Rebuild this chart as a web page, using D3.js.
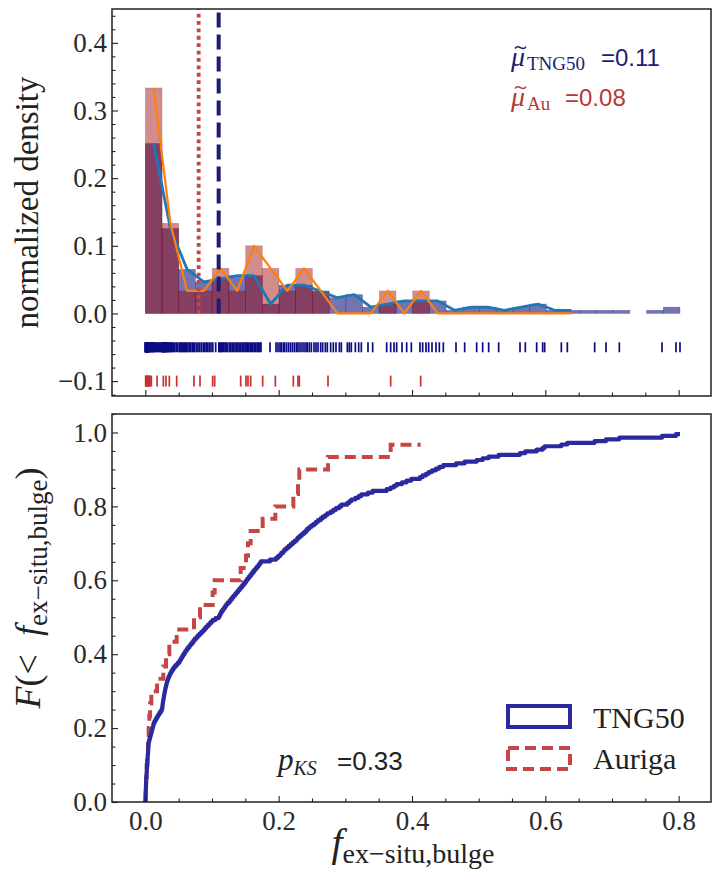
<!DOCTYPE html>
<html>
<head>
<meta charset="utf-8">
<script src="https://cdn.jsdelivr.net/npm/d3@7"></script>
<style>
  body { margin: 0; background: #fff; }
  svg text { fill: #222; }
  svg .tick text { font-family: 'Liberation Serif', 'Times New Roman', serif; font-size: 27px; }
</style>
</head>
<body>
<svg id="chart" width="712" height="879"></svg>
<script>
// Ex-situ bulge mass fraction per galaxy, TNG50 sample (sorted)
const tngValues = [
  0.0001, 0.0002, 0.0003, 0.0004, 0.0005, 0.0006, 0.0007, 0.0008, 0.0009, 0.0010,
  0.0011, 0.0012, 0.0013, 0.0015, 0.0016, 0.0018, 0.0019, 0.0021, 0.0022, 0.0024,
  0.0025, 0.0027, 0.0029, 0.0030, 0.0032, 0.0034, 0.0036, 0.0038, 0.0040, 0.0042,
  0.0044, 0.0046, 0.0048, 0.0049, 0.0050,
  0.0057, 0.0064, 0.0071, 0.0078, 0.0085, 0.0092, 0.0099, 0.0106, 0.0113, 0.0119, 0.0125,
  0.0138, 0.0152, 0.0166, 0.0181, 0.0197, 0.0213, 0.0229, 0.0245,
  0.0253, 0.0256, 0.0259, 0.0263, 0.0267, 0.0271, 0.0275, 0.0279, 0.0284, 0.0289,
  0.0294, 0.0299, 0.0305, 0.0311, 0.0317, 0.0324, 0.0332, 0.0341, 0.0351, 0.0362,
  0.0374, 0.0388, 0.0403, 0.0420, 0.0440, 0.0462, 0.0486,
  0.0510, 0.0525, 0.0540, 0.0555, 0.0570, 0.0588, 0.0602, 0.0621, 0.0640, 0.0662,
  0.0680, 0.0703, 0.0722, 0.0741,
  0.0768, 0.0790, 0.0815, 0.0840, 0.0868, 0.0890, 0.0912, 0.0938, 0.0962, 0.0985,
  0.1012, 0.1055, 0.1102, 0.1115, 0.1128, 0.1142, 0.1160, 0.1178, 0.1196, 0.1214, 0.1235,
  0.1262, 0.1281, 0.1302, 0.1322, 0.1345, 0.1366, 0.1388, 0.1409, 0.1431, 0.1452, 0.1474, 0.1495,
  0.1512, 0.1531, 0.1552, 0.1573, 0.1592, 0.1613, 0.1634, 0.1655, 0.1676, 0.1697, 0.1716, 0.1735,
  0.187, 0.196, 0.199,
  0.202, 0.204, 0.207, 0.209, 0.212, 0.215, 0.218, 0.221, 0.224,
  0.227, 0.229, 0.232, 0.235, 0.238, 0.241, 0.243, 0.246, 0.249,
  0.253, 0.256, 0.259, 0.263, 0.266, 0.270, 0.273,
  0.278, 0.282, 0.286, 0.291, 0.294,
  0.303, 0.306, 0.309, 0.315, 0.320, 0.324,
  0.334, 0.341,
  0.362, 0.368, 0.373,
  0.377, 0.385, 0.392, 0.399,
  0.412, 0.416, 0.421, 0.425,
  0.430, 0.436, 0.441, 0.447,
  0.466,
  0.479, 0.497,
  0.506, 0.515,
  0.530,
  0.562, 0.570,
  0.587, 0.596, 0.599,
  0.624, 0.633, 0.674, 0.691, 0.711,
  0.775, 0.796, 0.802
];

// Ex-situ bulge mass fraction per galaxy, Auriga sample (sorted)
const aurigaValues = [
  0.0005, 0.001, 0.002, 0.003, 0.004, 0.005, 0.006, 0.007, 0.009, 0.0176,
  0.027, 0.031, 0.036, 0.047, 0.073, 0.082, 0.101, 0.104, 0.143, 0.151,
  0.154, 0.158, 0.176, 0.195, 0.222, 0.229, 0.231, 0.274, 0.368, 0.413
];

const seriesNames = ["TNG50", "Auriga"];
const medianSubscripts = ["TNG50", "Au"];
const pKS = 0.33;

const xTicks = [0.0, 0.2, 0.4, 0.6, 0.8];
const xMinorTicks = [0.05, 0.1, 0.15, 0.25, 0.3, 0.35, 0.45, 0.5, 0.55, 0.65, 0.7, 0.75];
const densityTicks = [-0.1, 0.0, 0.1, 0.2, 0.3, 0.4];
const densityMinorTicks = [-0.12, -0.08, -0.06, -0.04, -0.02, 0.02, 0.04, 0.06, 0.08,
  0.12, 0.14, 0.16, 0.18, 0.22, 0.24, 0.26, 0.28, 0.32, 0.34, 0.36, 0.38, 0.42, 0.44];
const cdfTicks = [0.0, 0.2, 0.4, 0.6, 0.8, 1.0];
const cdfMinorTicks = [0.05, 0.1, 0.15, 0.25, 0.3, 0.35, 0.45, 0.5, 0.55, 0.65, 0.7, 0.75, 0.85, 0.9, 0.95, 1.05];

// Histogram settings
const nBins = 32;
const polygonBins = 26;          // bins covered by the frequency polygons
const rugLevels = [-0.05, -0.1]; // rug rows in density units

// Colours
const tngBar = "#10107a", auBar = "#990000";
const tngDark = "#0c0c82", tngCdf = "#2a2a9e", tngText = "#1c1c74";
const auRed = "#c44646", auText = "#b83838";
const polyBlue = "#1f77b4", polyOrange = "#ff7f0e";

const serif = "'Liberation Serif', 'Times New Roman', serif";
const sans = "'Liberation Sans', Arial, sans-serif";

const svg = d3.select("#chart");

// Panel geometry
const left = 112, right = 711;
const top1 = 9, bot1 = 396;
const top2 = 414, bot2 = 802;

const x = d3.scaleLinear().domain([-0.05, 0.85]).range([left, 712]);
const yD = d3.scaleLinear().domain([-0.122, 0.45]).range([bot1, top1]);
const yC = d3.scaleLinear().domain([0, 1.05]).range([bot2, top2]);

// ---------- top panel: histograms ----------
const maxVal = d3.max(tngValues);
const thresholds = d3.range(1, nBins).map(i => i * maxVal / nBins);
const binner = d3.bin().domain([0, maxVal]).thresholds(thresholds);
const tngBins = binner(tngValues).map(b => ({x0: b.x0, x1: b.x1, h: b.length / tngValues.length}));
const auBins = binner(aurigaValues).map(b => ({x0: b.x0, x1: b.x1, h: b.length / aurigaValues.length}));

svg.append("clipPath").attr("id", "clipTop")
  .append("rect").attr("x", left).attr("y", top1).attr("width", right - left).attr("height", bot1 - top1);
const g1 = svg.append("g").attr("clip-path", "url(#clipTop)");

function drawBars(bins, color, opacity) {
  g1.append("g").selectAll("rect").data(bins.filter(b => b.h > 0)).join("rect")
    .attr("x", b => x(b.x0))
    .attr("width", b => x(b.x1) - x(b.x0))
    .attr("y", b => yD(b.h))
    .attr("height", b => yD(0) - yD(b.h))
    .attr("fill", color).attr("fill-opacity", opacity)
    .attr("stroke", color).attr("stroke-opacity", opacity * 0.6).attr("stroke-width", 0.6);
}
drawBars(tngBins, tngBar, 0.58);
drawBars(auBins, auBar, 0.45);

const poly = d3.line().x(b => x((b.x0 + b.x1) / 2)).y(b => yD(b.h));
g1.append("path").datum(tngBins.slice(0, polygonBins)).attr("d", poly)
  .attr("fill", "none").attr("stroke", polyBlue).attr("stroke-width", 2.8).attr("stroke-linejoin", "round");
g1.append("path").datum(auBins.slice(0, polygonBins)).attr("d", poly)
  .attr("fill", "none").attr("stroke", polyOrange).attr("stroke-width", 2.2).attr("stroke-linejoin", "round");

// medians
const medTng = Math.round(d3.median(tngValues) * 100) / 100;
const medAu = Math.round(d3.median(aurigaValues) * 100) / 100;
g1.append("line").attr("x1", x(medAu)).attr("x2", x(medAu)).attr("y1", yD(0)).attr("y2", top1)
  .attr("stroke", auRed).attr("stroke-width", 3.8).attr("stroke-dasharray", "3.8,3.6");
g1.append("line").attr("x1", x(medTng)).attr("x2", x(medTng)).attr("y1", yD(0)).attr("y2", top1)
  .attr("stroke", tngText).attr("stroke-width", 4).attr("stroke-dasharray", "15,7");

// rugs
function drawRug(values, level, color, half) {
  g1.append("g").selectAll("line").data(values).join("line")
    .attr("x1", d => x(d)).attr("x2", d => x(d))
    .attr("y1", yD(level) - half).attr("y2", yD(level) + half)
    .attr("stroke", color).attr("stroke-width", 1.7);
}
drawRug(tngValues, rugLevels[0], tngDark, 5);
drawRug(aurigaValues, rugLevels[1], "#c83030", 5.5);

// median annotations (mu with a tilde accent drawn as a small wave)
const fmt2 = d3.format(".2f");
function medianLabel(yBase, sub, value, color, eqX) {
  svg.append("path")
    .attr("transform", `translate(515,${yBase - 20})`)
    .attr("d", "M0,2.5 C1.5,0.3 3.5,0.3 5.5,1.6 C7.5,2.9 9.5,2.9 11,0.6")
    .attr("fill", "none").attr("stroke", color).attr("stroke-width", 1.5);
  const t = svg.append("text").attr("y", yBase);
  t.append("tspan").attr("x", 511).attr("font-family", serif).attr("font-style", "italic")
    .attr("font-size", 28).style("fill", color).text("\u03bc");
  t.append("tspan").attr("x", 527).attr("dy", 4).attr("font-family", serif)
    .attr("font-size", 19).style("fill", color).text(sub);
  t.append("tspan").attr("x", eqX).attr("dy", -4).attr("font-family", sans)
    .attr("font-size", 24).style("fill", color).text("=" + fmt2(value));
}
medianLabel(66, medianSubscripts[0], medTng, tngText, 601);
medianLabel(106, medianSubscripts[1], medAu, auText, 565);

// ---------- bottom panel: cumulative distributions ----------
svg.append("clipPath").attr("id", "clipBot")
  .append("rect").attr("x", left).attr("y", top2).attr("width", right - left).attr("height", bot2 - top2);
const g2 = svg.append("g").attr("clip-path", "url(#clipBot)");

function cdfPoints(values) {
  const s = values.slice().sort(d3.ascending);
  return s.map((v, i) => [v, i / s.length]);
}
const stepLine = d3.line().x(d => x(d[0])).y(d => yC(d[1])).curve(d3.curveStepBefore);
g2.append("path").datum(cdfPoints(aurigaValues)).attr("d", stepLine)
  .attr("fill", "none").attr("stroke", auRed).attr("stroke-width", 4)
  .attr("stroke-dasharray", "11,6");
g2.append("path").datum(cdfPoints(tngValues)).attr("d", stepLine)
  .attr("fill", "none").attr("stroke", tngCdf).attr("stroke-width", 4.2)
  .attr("stroke-linejoin", "round");

// p-value
const pt = svg.append("text").attr("y", 770);
pt.append("tspan").attr("x", 278).attr("font-family", serif).attr("font-style", "italic")
  .attr("font-size", 31).text("p");
pt.append("tspan").attr("dy", 5).attr("font-family", serif).attr("font-style", "italic")
  .attr("font-size", 20).text("KS");
pt.append("tspan").attr("x", 337).attr("dy", -5).attr("font-family", sans)
  .attr("font-size", 26).text("=" + fmt2(pKS));

// legend
const legend = svg.append("g");
legend.append("rect").attr("x", 508).attr("y", 706).attr("width", 62).attr("height", 21)
  .attr("fill", "none").attr("stroke", tngCdf).attr("stroke-width", 4);
legend.append("rect").attr("x", 508).attr("y", 748).attr("width", 62).attr("height", 21)
  .attr("fill", "none").attr("stroke", auRed).attr("stroke-width", 4).attr("stroke-dasharray", "11,6");
legend.append("text").attr("x", 593).attr("y", 728).attr("font-family", serif)
  .attr("font-size", 30).text(seriesNames[0]);
legend.append("text").attr("x", 593).attr("y", 769).attr("font-family", serif)
  .attr("font-size", 30).text(seriesNames[1]);

// ---------- axes ----------
const fmt1 = d3.format(".1f");
function styleAxis(g) {
  g.attr("font-family", serif).attr("font-size", 27);
  g.select(".domain").remove();
  g.selectAll(".tick line").attr("stroke", "#222").attr("stroke-width", 1.1);
  g.selectAll(".tick text")
    .attr("font-family", serif).attr("font-size", 27)
    .style("font-family", serif).style("font-size", "27px").style("fill", "#2a2a2a");
}
// top panel
svg.append("g").attr("transform", `translate(0,${bot1})`)
  .call(d3.axisBottom(x).tickValues(xTicks).tickSizeInner(-6).tickSizeOuter(0).tickFormat(""))
  .call(styleAxis);
svg.append("g").attr("transform", `translate(0,${bot1})`)
  .call(d3.axisBottom(x).tickValues(xMinorTicks).tickSizeInner(-3.5).tickSizeOuter(0).tickFormat(""))
  .call(styleAxis);
svg.append("g").attr("transform", `translate(${left},0)`)
  .call(d3.axisLeft(yD).tickValues(densityTicks).tickSizeInner(-6).tickSizeOuter(0).tickPadding(5).tickFormat(fmt1))
  .call(styleAxis);
svg.append("g").attr("transform", `translate(${left},0)`)
  .call(d3.axisLeft(yD).tickValues(densityMinorTicks).tickSizeInner(-3.5).tickSizeOuter(0).tickFormat(""))
  .call(styleAxis);
// bottom panel
svg.append("g").attr("transform", `translate(0,${bot2})`)
  .call(d3.axisBottom(x).tickValues(xTicks).tickSizeInner(-6).tickSizeOuter(0).tickPadding(9).tickFormat(fmt1))
  .call(styleAxis);
svg.append("g").attr("transform", `translate(0,${bot2})`)
  .call(d3.axisBottom(x).tickValues(xMinorTicks).tickSizeInner(-3.5).tickSizeOuter(0).tickFormat(""))
  .call(styleAxis);
svg.append("g").attr("transform", `translate(${left},0)`)
  .call(d3.axisLeft(yC).tickValues(cdfTicks).tickSizeInner(-6).tickSizeOuter(0).tickPadding(5).tickFormat(fmt1))
  .call(styleAxis);
svg.append("g").attr("transform", `translate(${left},0)`)
  .call(d3.axisLeft(yC).tickValues(cdfMinorTicks).tickSizeInner(-3.5).tickSizeOuter(0).tickFormat(""))
  .call(styleAxis);

// panel frames
[[top1, bot1], [top2, bot2]].forEach(([t, b]) => {
  svg.append("rect").attr("x", left).attr("y", t).attr("width", right - left).attr("height", b - t)
    .attr("fill", "none").attr("stroke", "#222").attr("stroke-width", 1.5);
});

// axis titles
svg.append("text").attr("transform", `translate(38,${(top1 + bot1) / 2}) rotate(-90)`)
  .attr("text-anchor", "middle").attr("font-family", serif).attr("font-size", 33)
  .text("normalized density");

const yl = svg.append("text").attr("transform", `translate(40,588) rotate(-90)`)
  .attr("text-anchor", "middle").attr("font-family", serif).attr("font-size", 36);
yl.append("tspan").attr("font-style", "italic").text("F");
yl.append("tspan").text("(<\u2002");
yl.append("tspan").attr("font-style", "italic").text("f");
yl.append("tspan").attr("font-size", 27).attr("dy", 7).text("ex\u2212situ,bulge");
yl.append("tspan").attr("dy", -7).text(")");

const xl = svg.append("text").attr("x", 413).attr("y", 856)
  .attr("text-anchor", "middle").attr("font-family", serif);
xl.append("tspan").attr("font-style", "italic").attr("font-size", 40).text("f");
xl.append("tspan").attr("font-size", 28).attr("dy", 7).text("ex\u2212situ,bulge");
</script>
</body>
</html>
